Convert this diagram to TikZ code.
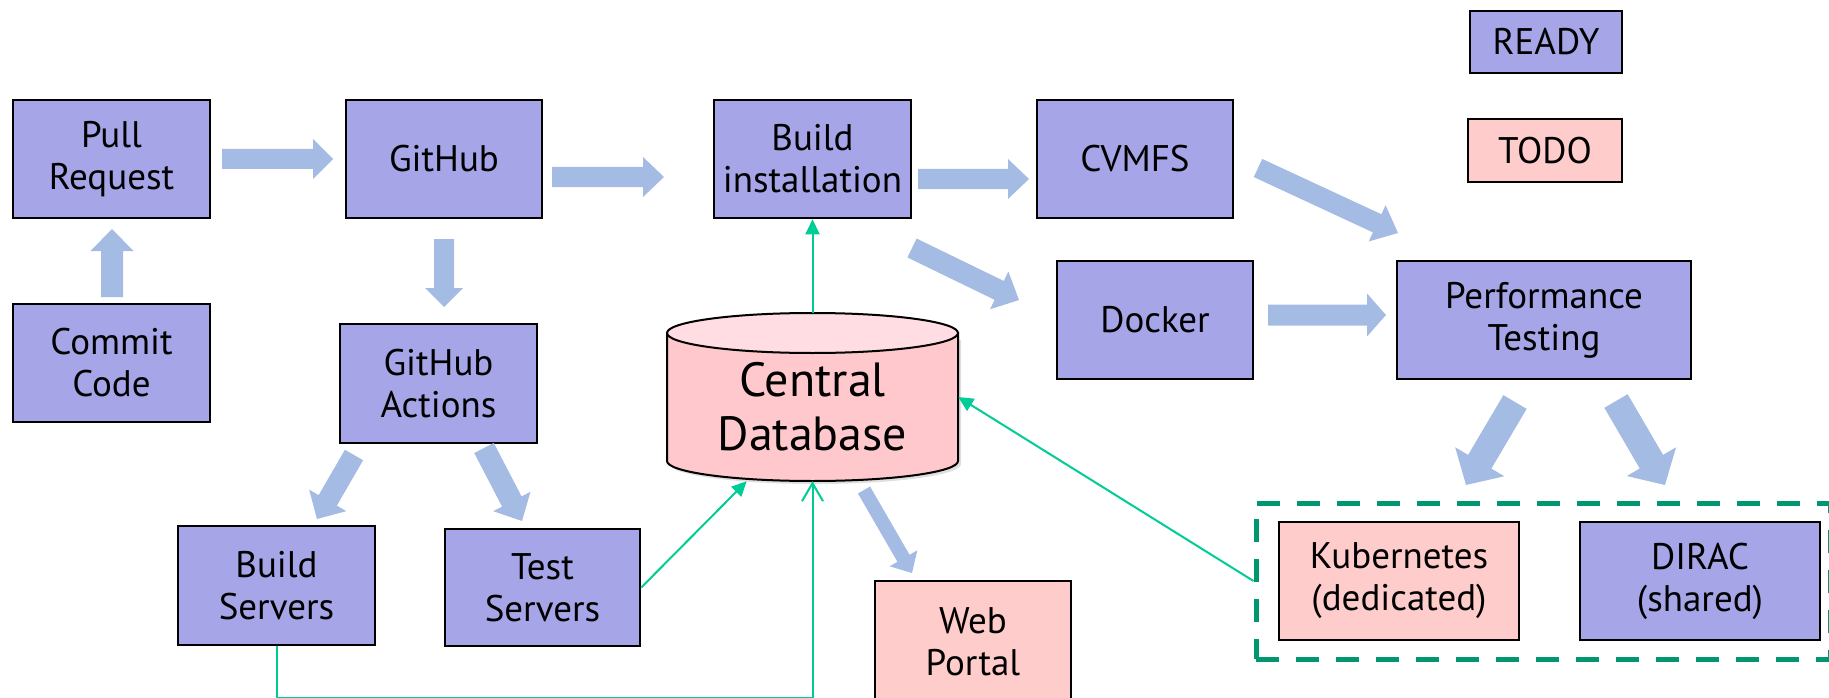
\documentclass[tikz,border=0pt]{standalone}
\usepackage{fontspec}
\setmainfont{PT Sans}
\usetikzlibrary{arrows.meta,calc}
\definecolor{readyc}{RGB}{165,165,232}
\definecolor{todoc}{RGB}{255,204,204}
\definecolor{fatc}{RGB}{164,187,227}
\definecolor{glc}{RGB}{0,204,150}
\definecolor{dgc}{RGB}{0,150,110}
\definecolor{dbtop}{RGB}{255,221,226}
\definecolor{dbbody}{RGB}{255,200,204}
\newcommand{\fatarr}[5]{%
  \coordinate (fatb) at ($(#2)!#4!(#1)$);
  \fill[fatc] ($(#1)!#3!90:(#2)$) -- ($(fatb)!#3!90:(#2)$) -- ($(fatb)!#5!90:(#2)$) -- (#2)
    -- ($(fatb)!#5!-90:(#2)$) -- ($(fatb)!#3!-90:(#2)$) -- ($(#1)!#3!-90:(#2)$) -- cycle;}
\tikzset{
  rbox/.style={draw=black, line width=2.5pt, fill=readyc, align=center, inner sep=0pt,
    font=\fontsize{37}{42}\selectfont},
  tbox/.style={rbox, fill=todoc},
  gline/.style={draw=glc, line width=2pt},
  gtip/.style={-{Triangle[length=15pt,width=14pt]}},
}
\begin{document}
\begin{tikzpicture}[x=1pt,y=-1pt]
\useasboundingbox (0,0) rectangle (1829,698);
\clip (0,0) rectangle (1829,698);
% boxes
\node[rbox, minimum width=197pt, minimum height=118pt] (pr) at (111.5,159) {Pull\\Request};
\node[rbox, minimum width=197pt, minimum height=118pt] (cm) at (111.5,363) {Commit\\Code};
\node[rbox, minimum width=196pt, minimum height=118pt] (gh) at (444,159) {GitHub};
\node[rbox, minimum width=197pt, minimum height=119pt] (act) at (438.5,383.5) {GitHub\\Actions};
\node[rbox, minimum width=197pt, minimum height=119pt] (bs) at (276.5,585.5) {Build\\Servers};
\node[rbox, minimum width=195pt, minimum height=117pt] (ts) at (542.5,587.5) {Test\\Servers};
\node[rbox, minimum width=197pt, minimum height=118pt] (bi) at (812.5,159) {Build\\installation};
\node[rbox, minimum width=196pt, minimum height=118pt] (cv) at (1135,159) {CVMFS};
\node[rbox, minimum width=196pt, minimum height=118pt] (dk) at (1155,320) {Docker};
\node[rbox, minimum width=294pt, minimum height=118pt] (pf) at (1544,320) {Performance\\Testing};
\node[rbox, line width=2.2pt, minimum width=152pt, minimum height=62pt] (rd) at (1546,42) {READY};
\node[tbox, line width=2.2pt, minimum width=154pt, minimum height=63pt] (td) at (1545,150.5) {TODO};
\node[tbox, minimum width=240pt, minimum height=118pt] (kb) at (1399,581) {Kubernetes\\(dedicated)};
\node[rbox, minimum width=240pt, minimum height=118pt] (dr) at (1700,581) {DIRAC\\(shared)};
\node[tbox, minimum width=196pt, minimum height=122pt] (wp) at (973,642) {Web\\Portal};
\node[draw=dgc, line width=5pt, dash pattern=on 23pt off 17pt, minimum width=574pt, minimum height=156pt, inner sep=0pt] (grp) at (1543,581) {};
% database cylinder
\fill[black!25, opacity=0.5] (670,340) -- (670,464) arc[start angle=180, end angle=360, x radius=145.5pt, y radius=20pt] -- (961,340) -- cycle;
\filldraw[fill=dbbody, draw=black, line width=2pt] (667,333) -- (667,461) arc[start angle=180, end angle=360, x radius=145.5pt, y radius=20pt] -- (958,333) -- cycle;
\filldraw[fill=dbtop, draw=black, line width=2pt] (812.5,333) ellipse[x radius=145.5pt, y radius=20pt];
\node[minimum width=291pt, minimum height=168pt, inner sep=0pt] (db) at (812.5,397) {};
\node[align=center, font=\fontsize{48}{54}\selectfont] (dbt) at (812.5,407) {Central\\Database};
% fat arrows
\coordinate (f1s) at (112,297);  \coordinate (f1e) at (112,229);
\coordinate (f2s) at (222,159);  \coordinate (f2e) at (333,159);
\coordinate (f3s) at (444,239);  \coordinate (f3e) at (444,307);
\coordinate (f4s) at (552,177);  \coordinate (f4e) at (664,177);
\coordinate (f5s) at (918,179);  \coordinate (f5e) at (1029,179);
\coordinate (f6s) at (912,248);  \coordinate (f6e) at (1019,300);
\coordinate (f7s) at (1258,168); \coordinate (f7e) at (1398,233);
\coordinate (f8s) at (1268,315); \coordinate (f8e) at (1386,315);
\coordinate (f9s) at (1515,402); \coordinate (f9e) at (1466,485);
\coordinate (f10s) at (1616,401); \coordinate (f10e) at (1665,485);
\coordinate (f11s) at (354,455); \coordinate (f11e) at (317,519);
\coordinate (f12s) at (484,448); \coordinate (f12e) at (522,521);
\coordinate (f13s) at (864,490); \coordinate (f13e) at (912,573);
\fatarr{f1s}{f1e}{11pt}{22pt}{21.5pt}
\fatarr{f2s}{f2e}{10pt}{20pt}{20pt}
\fatarr{f3s}{f3e}{10pt}{19pt}{19pt}
\fatarr{f4s}{f4e}{10pt}{21pt}{20pt}
\fatarr{f5s}{f5e}{10pt}{21pt}{20pt}
\fatarr{f6s}{f6e}{10.5pt}{22pt}{21pt}
\fatarr{f7s}{f7e}{10pt}{23pt}{20pt}
\fatarr{f8s}{f8e}{10.5pt}{19pt}{21.5pt}
\fatarr{f9s}{f9e}{13.5pt}{27pt}{28.5pt}
\fatarr{f10s}{f10e}{13.5pt}{27pt}{28.5pt}
\fatarr{f11s}{f11e}{10.5pt}{21.5pt}{21.5pt}
\fatarr{f12s}{f12e}{11pt}{22pt}{21pt}
\fatarr{f13s}{f13e}{7pt}{17pt}{16pt}
% green connectors
\draw[gline, gtip] (db.north) -- (bi.south);
\draw[gline, gtip] (ts.east) -- (db.-128);
\draw[gline, gtip] (grp.west) -- (db.east);
\draw[gline, -{Straight Barb[length=18pt,width=21pt]}] (bs.south) -- ++(0,52) -| (db.south);
\end{tikzpicture}
\end{document}
